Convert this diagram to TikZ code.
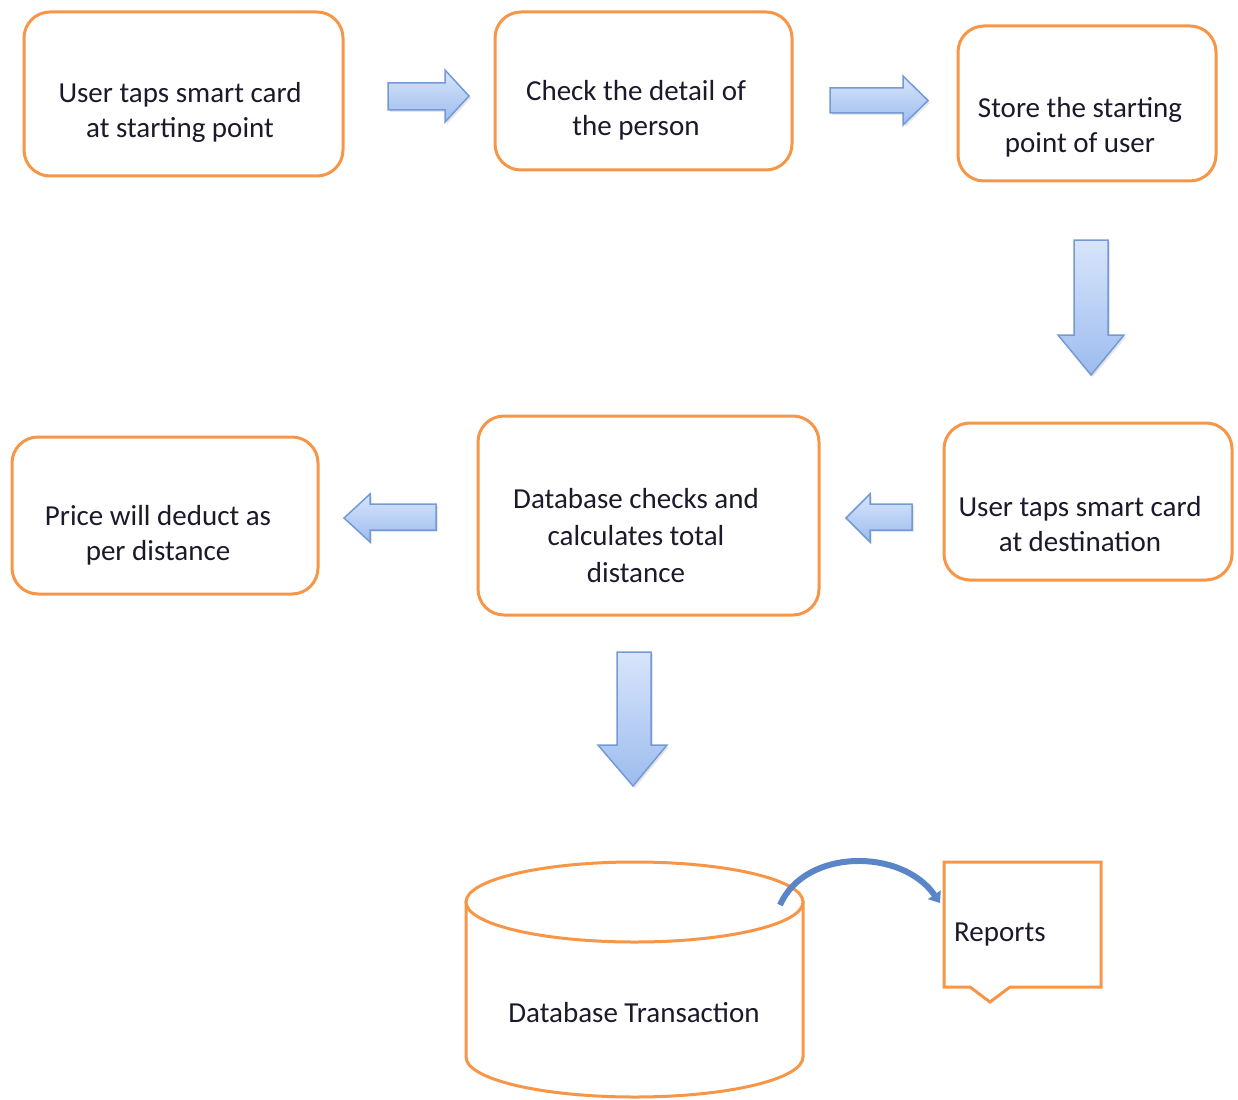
\documentclass[tikz,border=0pt]{standalone}
\usepackage{fontspec}
\setmainfont{Carlito}
\usetikzlibrary{arrows.meta,shadows}
\definecolor{boxorange}{HTML}{F79646}
\definecolor{arrowfillA}{HTML}{D8E5FB}
\definecolor{arrowfillB}{HTML}{9CBCEE}
\definecolor{arrowedge}{HTML}{7399D6}
\definecolor{curveblue}{HTML}{5A85C8}
\definecolor{ink}{HTML}{1A1A2A}
\begin{document}
\begin{tikzpicture}[x=1pt,y=-1pt,
  stepbox/.style={draw=boxorange, line width=3pt, rounded corners=26pt, fill=white, inner sep=0pt},
  lbl/.style={font=\fontsize{29}{35}\selectfont, text=ink, align=center, inner sep=0pt},
  orangeline/.style={draw=boxorange, line width=3pt, fill=white},
  blockarrow/.style={draw=arrowedge, line width=1.5pt, line join=miter, top color=arrowfillA, bottom color=arrowfillB,
    drop shadow={shadow xshift=2pt, shadow yshift=-2pt, opacity=0.2}},
  curvearrow/.style={draw=curveblue, line width=6pt, -{Triangle[length=10pt,width=15pt]}}]

\useasboundingbox (0,0) rectangle (1238,1099);

% process boxes
\node[stepbox, minimum width=319pt, minimum height=164pt] (a) at (183.5,94) {};
\node[stepbox, minimum width=297pt, minimum height=158pt] (b) at (643.5,91) {};
\node[stepbox, minimum width=258pt, minimum height=155pt] (c) at (1087,103.5) {};
\node[stepbox, minimum width=288pt, minimum height=157pt] (d) at (1088,501.5) {};
\node[stepbox, minimum width=341pt, minimum height=199pt] (e) at (648.5,515.5) {};
\node[stepbox, minimum width=306pt, minimum height=157pt] (f) at (165,515.5) {};

% box texts
\node[lbl] (ta) at (180,112.5) {User taps smart card\\ at starting point};
\node[lbl] (tb) at (636,110) {Check the detail of\\ the person};
\node[lbl] (tc) at (1080,127) {Store the starting\\ point of user};
\node[lbl] (td) at (1080,524.5) {User taps smart card\\ at destination};
\node[lbl, font=\fontsize{29}{37}\selectfont] (te) at (636,536) {Database checks and\\ calculates total\\ distance};
\node[lbl] (tf) at (158,535.5) {Price will deduct as\\ per distance};

% block arrows between the steps
\path[blockarrow] (388,83) -- (445,83) -- (445,70) -- (469,96) -- (445,122) -- (445,110) -- (388,110) -- cycle;
\path[blockarrow] (830,88) -- (903,88) -- (903,76) -- (928,100.5) -- (903,125) -- (903,113) -- (830,113) -- cycle;
\path[blockarrow] (1074,240) -- (1108,240) -- (1108,335) -- (1124,335) -- (1091,375) -- (1058,335) -- (1074,335) -- cycle;
\path[blockarrow] (912,504) -- (870,504) -- (870,494) -- (846,518) -- (870,542) -- (870,530) -- (912,530) -- cycle;
\path[blockarrow] (436,504) -- (370,504) -- (370,494) -- (344,518) -- (370,542) -- (370,530) -- (436,530) -- cycle;
\path[blockarrow] (617,652) -- (651,652) -- (651,745) -- (667,745) -- (633,786) -- (598,745) -- (617,745) -- cycle;

% database cylinder
\path[orangeline] (466,902) -- (466,1057) arc[start angle=180, end angle=0, x radius=168.5, y radius=40] -- (803,902) -- cycle;
\draw[orangeline] (634.5,902) ellipse [x radius=168.5, y radius=40];
\node[lbl] (db) at (634,1013) {Database Transaction};
\coordinate (dbtop) at (780,905);

% reports callout
\path[orangeline] (944,862) -- (1101,862) -- (1101,987) -- (1010,987) -- (990,1002) -- (970,987) -- (944,987) -- cycle;
\node[lbl, anchor=west] (rep) at (954,935) {Reports};
\coordinate (repin) at (940,903);

% curved link from the database to the reports
\draw[curvearrow] (dbtop) .. controls (805,848) and (902,848) .. (repin);
\end{tikzpicture}
\end{document}
